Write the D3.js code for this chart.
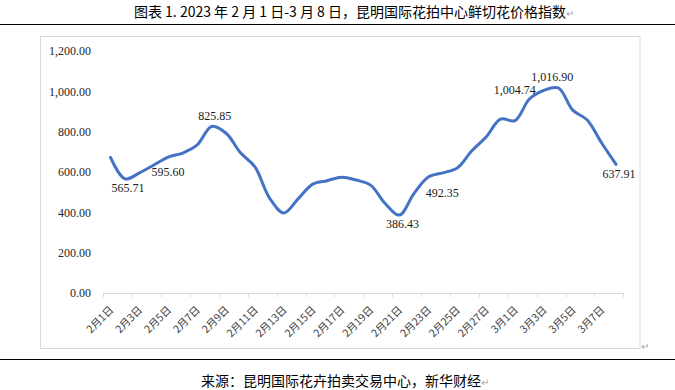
<!DOCTYPE html>
<html>
<head>
<meta charset="utf-8">
<script src="https://cdn.jsdelivr.net/npm/d3@7"></script>
<style>
  body { margin: 0; background: #fff; }
  svg { display: block; }
</style>
</head>
<body>
<svg id="chart"></svg>
<script>
var dates = ['2月1日', '2月2日', '2月3日', '2月4日', '2月5日', '2月6日', '2月7日', '2月8日', '2月9日', '2月10日',
  '2月11日', '2月12日', '2月13日', '2月14日', '2月15日', '2月16日', '2月17日', '2月18日', '2月19日', '2月20日',
  '2月21日', '2月22日', '2月23日', '2月24日', '2月25日', '2月26日', '2月27日', '2月28日',
  '3月1日', '3月2日', '3月3日', '3月4日', '3月5日', '3月6日', '3月7日', '3月8日'];

var priceIndex = [672, 565.71, 595.60, 635, 674, 694, 734, 825.85, 792, 695,
  625, 472, 397, 468, 540, 557, 574, 560, 535, 445,
  386.43, 492.35, 575, 596, 620, 704, 773, 862,
  855, 962, 1004.74, 1016.90, 907, 858, 744, 637.91];

var yTicks = [0, 200, 400, 600, 800, 1000, 1200];

// which points carry a value label, and on which side
var labelDates = ['2月2日', '2月3日', '2月8日', '2月21日', '2月22日', '3月3日', '3月4日', '3月8日'];
var labelSides = ['below', 'right', 'above', 'below', 'right', 'left', 'above', 'below'];

var titleText = '图表 1. 2023 年 2 月 1 日-3 月 8 日，昆明国际花拍中心鲜切花价格指数';
var sourceText = '来源：昆明国际花卉拍卖交易中心，新华财经';

var width = 675, height = 390;
var plot = { left: 103.3, right: 623.3, top: 51, bottom: 293 };

var svg = d3.select('#chart').attr('width', width).attr('height', height);
var cjk = '"Noto Sans CJK SC", "Noto Sans", sans-serif';
var serif = '"Liberation Serif", "Times New Roman", serif';

svg.append('rect').attr('width', width).attr('height', height).attr('fill', '#fff');

// title + rules
var title = svg.append('text')
  .attr('x', 574).attr('y', 17)
  .attr('text-anchor', 'end')
  .style('font-family', cjk).style('font-size', '14px').attr('fill', '#000');
title.append('tspan').text(titleText);
title.append('tspan').text('↵').attr('fill', '#a6a6a6').style('font-size', '10px');

svg.append('line').attr('x1', 0).attr('x2', width).attr('y1', 24.5).attr('y2', 24.5)
  .attr('stroke', '#000').attr('stroke-width', 1.2);
svg.append('line').attr('x1', 0).attr('x2', width).attr('y1', 359.5).attr('y2', 359.5)
  .attr('stroke', '#000').attr('stroke-width', 1.2);

// chart frame
svg.append('rect').attr('x', 40.5).attr('y', 36.5).attr('width', 599.5).attr('height', 312)
  .attr('fill', 'none').attr('stroke', '#d9d9d9');
svg.append('text').attr('x', 641).attr('y', 350).text('↵')
  .attr('fill', '#a6a6a6').style('font-size', '10px').style('font-family', cjk);

var xScale = d3.scaleBand().domain(dates).range([plot.left, plot.right]).paddingInner(0).paddingOuter(0);
var yScale = d3.scaleLinear().domain([0, 1200]).range([plot.bottom, plot.top]);
var bw = xScale.bandwidth();
var px = function(d) { return xScale(d) + bw / 2; };

// y labels (no axis line, no gridlines)
svg.append('g').selectAll('text').data(yTicks).enter().append('text')
  .attr('x', 91).attr('y', function(d) { return yScale(d); })
  .attr('dy', '0.35em').attr('text-anchor', 'end')
  .style('font-family', serif).style('font-size', '12px').attr('fill', '#262626')
  .text(d3.format(',.2f'));

// x axis
var tickDates = dates.filter(function(d, i) { return i % 2 === 0; });
var tickXs = tickDates.map(function(d) { return xScale(d); }).concat([plot.right]);
var xAxis = svg.append('g').attr('class', 'xAxis');
xAxis.append('line').attr('x1', plot.left).attr('x2', plot.right)
  .attr('y1', plot.bottom + 0.5).attr('y2', plot.bottom + 0.5).attr('stroke', '#d9d9d9');
xAxis.selectAll('.tick').data(tickXs).enter().append('line')
  .attr('x1', function(d) { return Math.round(d) + 0.5; }).attr('x2', function(d) { return Math.round(d) + 0.5; })
  .attr('y1', plot.bottom).attr('y2', plot.bottom + 4).attr('stroke', '#d9d9d9');
xAxis.selectAll('.lbl').data(tickDates).enter().append('text')
  .attr('text-anchor', 'end')
  .attr('transform', function(d) { return 'translate(' + (px(d) + 1) + ',' + (plot.bottom + 15) + ') rotate(-45)'; })
  .attr('dy', '0.35em')
  .style('font-family', cjk).style('font-size', '10.5px').attr('fill', '#404040')
  .text(function(d) { return d; });

// line
var line = d3.line()
  .x(function(d, i) { return px(dates[i]); })
  .y(function(d) { return yScale(d); })
  .curve(d3.curveCatmullRom.alpha(0.5));

svg.append('path').datum(priceIndex)
  .attr('d', line)
  .attr('fill', 'none').attr('stroke', '#4472c4').attr('stroke-width', 3)
  .attr('stroke-linecap', 'round').attr('stroke-linejoin', 'round');

// value labels
var labels = labelDates.map(function(d, k) {
  return { date: d, value: priceIndex[dates.indexOf(d)], side: labelSides[k] };
});
svg.append('g').selectAll('text').data(labels).enter().append('text')
  .attr('x', function(d) {
    var x = px(d.date);
    if (d.side === 'right') return x + 12;
    if (d.side === 'left') return x - 8;
    if (d.side === 'above' && d.value > 1000) return x - 6;
    return x + 3;
  })
  .attr('y', function(d) {
    var y = yScale(d.value);
    if (d.side === 'below') return y + 9;
    if (d.side === 'above') return y - 11;
    return y - 1;
  })
  .attr('dy', '0.35em')
  .attr('text-anchor', function(d) {
    if (d.side === 'right') return 'start';
    if (d.side === 'left') return 'end';
    return 'middle';
  })
  .style('font-family', serif).style('font-size', '12px').attr('fill', '#1a1a1a')
  .text(function(d) { return d3.format(',.2f')(d.value); });

// source
var src = svg.append('text').attr('x', 201).attr('y', 386)
  .style('font-family', cjk).style('font-size', '14px').attr('fill', '#000');
src.append('tspan').text(sourceText);
src.append('tspan').text('↵').attr('fill', '#a6a6a6').style('font-size', '10px');
</script>
</body>
</html>
